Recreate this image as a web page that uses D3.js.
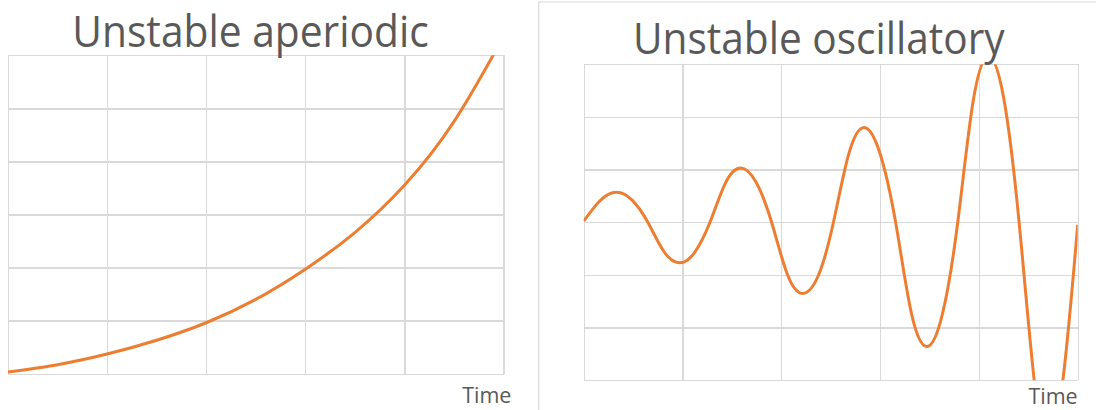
<!DOCTYPE html>
<html>
<head>
<meta charset="utf-8">
<script src="https://cdn.jsdelivr.net/npm/d3@7"></script>
<style>
  html, body { margin: 0; padding: 0; background: #ffffff; }
  svg { display: block; }
</style>
</head>
<body>
<svg id="chart" width="1096" height="410"></svg>
<script>
// ---- data -------------------------------------------------------------
// Unstable aperiodic response (time in grid units, response in grid units)
const aperiodicTime  = [0, 0.5, 1, 1.5, 2, 2.5, 3, 3.5, 4, 4.5, 5];
const aperiodicValue = [0.03, 0.17, 0.37, 0.63, 0.96, 1.40, 1.97, 2.66, 3.55, 4.75, 6.35];

// Unstable oscillatory response
const oscTime  = [0, 0.165, 0.33, 0.49, 0.649, 0.81, 0.968, 1.12, 1.278, 1.433, 1.588,
                  1.745, 1.902, 2.06, 2.216, 2.375, 2.528, 2.683, 2.839, 2.995, 3.157,
                  3.316, 3.475, 3.63, 3.786, 3.94, 4.097, 4.252, 4.407, 4.56, 4.70,
                  4.85, 5.0];
const oscValue = [0.02, 0.41, 0.57, 0.42, 0.0, -0.55, -0.77, -0.58, 0.0, 0.74, 1.03,
                  0.76, 0.0, -0.98, -1.35, -1.01, 0.0, 1.30, 1.80, 1.33, 0.0,
                  -1.72, -2.36, -1.75, 0.0, 2.28, 3.15, 2.35, 0.0, -3.0, -4.2,
                  -3.0, -0.05];

const timeTicks      = [0, 1, 2, 3, 4, 5];
const aperiodicTicks = [0, 1, 2, 3, 4, 5, 6];
const oscTicks       = [-3, -2, -1, 0, 1, 2, 3];
const panelTitles    = ["Unstable aperiodic", "Unstable oscillatory"];
const timeLabel      = "Time";

// ---- styles -----------------------------------------------------------
const GRID = "#d9d9d9";
const LINE = "#ed7d31";
const TEXT = "#595959";
const FONT = "'Open Sans', 'Noto Sans', sans-serif";

const svg = d3.select("#chart");

// Right-hand chart frame
svg.append("path")
  .attr("d", "M538.7,410 V2 H1096")
  .attr("fill", "none")
  .attr("stroke", GRID)
  .attr("stroke-width", 1.2);

const panels = [
  {
    id: "aperiodic",
    box: { left: 8, right: 503.5, top: 55.3, bottom: 373.7 },
    yDomain: [0, 6], yTicks: aperiodicTicks,
    t: aperiodicTime, v: aperiodicValue,
    title: { text: panelTitles[0], x: 72.3, y: 47, width: 356.4 },
    label: { x: 511.4, y: 402.7 }
  },
  {
    id: "oscillatory",
    box: { left: 583.7, right: 1077.7, top: 64.3, bottom: 380.3 },
    yDomain: [-3, 3], yTicks: oscTicks,
    t: oscTime, v: oscValue,
    title: { text: panelTitles[1], x: 632.9, y: 53.5, width: 371.8 },
    label: { x: 1077.7, y: 404 }
  }
];

panels.forEach(p => {
  const b = p.box;
  const x = d3.scaleLinear().domain([0, 5]).range([b.left, b.right]);
  const y = d3.scaleLinear().domain(p.yDomain).range([b.bottom, b.top]);
  const h = b.bottom - b.top;
  const w = b.right - b.left;

  const g = svg.append("g");

  // vertical gridlines
  const xGrid = g.append("g")
    .attr("transform", `translate(0,${b.bottom})`)
    .call(d3.axisBottom(x).tickValues(timeTicks).tickSize(-h).tickFormat(""));
  // horizontal gridlines
  const yGrid = g.append("g")
    .attr("transform", `translate(${b.left},0)`)
    .call(d3.axisLeft(y).tickValues(p.yTicks).tickSize(-w).tickFormat(""));

  [xGrid, yGrid].forEach(ax => {
    ax.select(".domain").remove();
    ax.selectAll(".tick line")
      .attr("stroke", GRID)
      .attr("stroke-width", 1.3)
      .attr("shape-rendering", "crispEdges");
  });

  // clip the response curve to the plot area
  const clipId = "clip-" + p.id;
  svg.append("clipPath").attr("id", clipId)
    .append("rect")
    .attr("x", b.left).attr("y", b.top)
    .attr("width", w).attr("height", h);

  const pts = p.t.map((t, i) => [t, p.v[i]]);
  const line = d3.line()
    .x(d => x(d[0]))
    .y(d => y(d[1]))
    .curve(d3.curveNatural);

  g.append("path")
    .datum(pts)
    .attr("clip-path", `url(#${clipId})`)
    .attr("fill", "none")
    .attr("stroke", LINE)
    .attr("stroke-width", 3)
    .attr("stroke-linejoin", "round")
    .attr("d", line);

  // title
  svg.append("text")
    .attr("x", p.title.x)
    .attr("y", p.title.y)
    .attr("font-family", FONT)
    .attr("font-size", 43)
    .attr("fill", TEXT)
    .attr("textLength", p.title.width)
    .attr("lengthAdjust", "spacingAndGlyphs")
    .text(p.title.text);

  // axis label
  svg.append("text")
    .attr("x", p.label.x)
    .attr("y", p.label.y)
    .attr("text-anchor", "end")
    .attr("font-family", FONT)
    .attr("font-size", 21.5)
    .attr("fill", TEXT)
    .text(timeLabel);
});
</script>
</body>
</html>
